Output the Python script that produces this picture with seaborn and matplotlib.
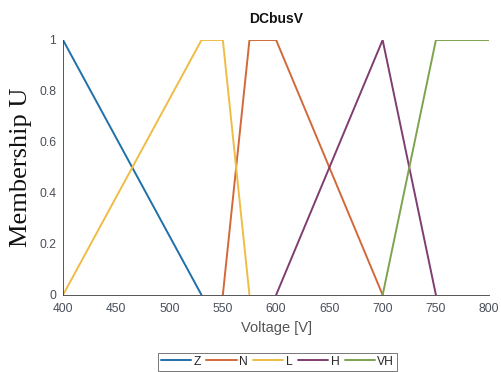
import numpy as np
import pandas as pd
import matplotlib
matplotlib.use("Agg")
import matplotlib.pyplot as plt
import seaborn as sns
from matplotlib.ticker import FuncFormatter

# Membership function breakpoints for the DC bus voltage input
names = ["Z", "N", "L", "H", "VH"]
z_x = [400, 530]
z_mu = [1, 0]
n_x = [550, 575, 600, 700]
n_mu = [0, 1, 1, 0]
l_x = [400, 530, 550, 575]
l_mu = [0, 1, 1, 0]
h_x = [600, 700, 750]
h_mu = [0, 1, 0]
vh_x = [700, 750, 800]
vh_mu = [0, 1, 1]
colors = ["#1f70a8", "#d2693a", "#efbd45", "#7f3d70", "#7ea350"]

xs = [z_x, n_x, l_x, h_x, vh_x]
mus = [z_mu, n_mu, l_mu, h_mu, vh_mu]
rows = []
for name, x, m in zip(names, xs, mus):
    for i, (xi, mi) in enumerate(zip(x, m)):
        rows.append({"set": name, "order": i, "V": xi, "mu": mi})
df = pd.DataFrame(rows)

sns.set_theme(style="white")
plt.rcParams["font.family"] = ["Liberation Sans", "DejaVu Sans"]

fig = plt.figure(figsize=(5.02, 3.72), dpi=100)
ax = fig.add_axes([0.1255, 0.207, 0.849, 0.6855])

sns.lineplot(data=df, x="V", y="mu", hue="set", hue_order=names,
             palette=colors, units="set", estimator=None, sort=False,
             linewidth=1.4, ax=ax, legend=True)

ax.set_xlim(400, 800)
ax.set_ylim(0, 1)
ax.set_xticks(np.arange(400, 801, 50))
ax.set_yticks(np.arange(0, 1.01, 0.2))
ax.yaxis.set_major_formatter(FuncFormatter(lambda v, p: f"{v:g}"))
tick_col = "#4a4f5a"
ax.tick_params(direction="in", length=3, width=0.6, colors=tick_col,
               labelsize=8.7)
ax.tick_params(axis="x", pad=6)
ax.tick_params(axis="y", pad=5)
for s in ["top", "right"]:
    ax.spines[s].set_visible(False)
for s in ["left", "bottom"]:
    ax.spines[s].set_color("#3a3a3a")
    ax.spines[s].set_linewidth(0.6)

ax.set_title("DCbusV", fontsize=10, fontweight="bold", color="#111111", pad=12)
ax.set_xlabel("Voltage [V]", fontsize=10.5, color="#555555", labelpad=4)
ax.set_ylabel("Membership U", fontsize=19, family="Liberation Serif",
              color="#111111", labelpad=5)

handles, labels = ax.get_legend_handles_labels()
ax.get_legend().remove()
leg = fig.legend(handles, labels, loc="center", bbox_to_anchor=(0.553, 0.028),
                 ncol=5, fontsize=8.7, frameon=True, fancybox=False,
                 handlelength=2.5, handletextpad=0.2, columnspacing=0.45,
                 borderpad=0.25, edgecolor="#3a3a3a")
leg.get_frame().set_linewidth(0.6)
for t in leg.get_texts():
    t.set_color("#262626")

fig.savefig("out.png", dpi=100)
